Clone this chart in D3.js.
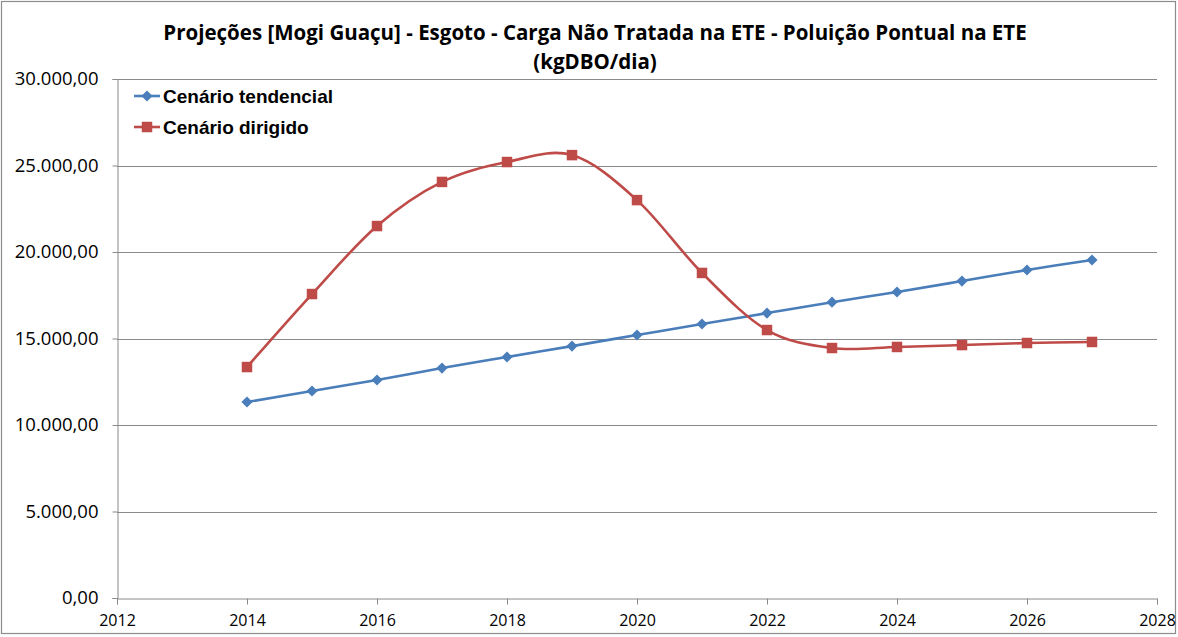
<!DOCTYPE html>
<html><head><meta charset="utf-8">
<script src="https://cdn.jsdelivr.net/npm/d3@7"></script>
<style>body{margin:0;background:#fff}svg{display:block}</style>
</head><body>
<svg id="c" width="1178" height="637"></svg>
<script>
const years = [2014,2015,2016,2017,2018,2019,2020,2021,2022,2023,2024,2025,2026,2027];
const tendencial = [11330,11965,12600,13290,13930,14560,15200,15840,16470,17100,17690,18320,18960,19540];
const dirigido = [13350,17570,21500,24050,25200,25600,23000,18790,15490,14450,14510,14620,14740,14800];
const seriesNames = ["Cenário tendencial","Cenário dirigido"];
const titleLines = ["Projeções [Mogi Guaçu] - Esgoto - Carga Não Tratada na ETE - Poluição Pontual na ETE","(kgDBO/dia)"];
const xTicks = [2012,2014,2016,2018,2020,2022,2024,2026,2028];
const yTicks = [0,5000,10000,15000,20000,25000,30000];

const svg = d3.select("#c");
const L=117, R=1157, T=79, B=598;
const x = d3.scaleLinear().domain([2012,2028]).range([L,R]);
const y = d3.scaleLinear().domain([0,30000]).range([B,T]);
const fmt = v => d3.formatLocale({decimal:",",thousands:".",grouping:[3]}).format(",.2f")(v);

svg.append("rect").attr("x",1.5).attr("y",1.5).attr("width",1174).attr("height",632)
  .attr("fill","#fff").attr("stroke","#8c8c8c").attr("stroke-width",1.2);

// gridlines
svg.append("g").selectAll("line").data(yTicks.filter(d=>d>0)).join("line")
  .attr("x1",L).attr("x2",R).attr("y1",d=>Math.round(y(d))+0.5).attr("y2",d=>Math.round(y(d))+0.5)
  .attr("stroke","#8a8a8a").attr("stroke-width",1);

// y axis
const ya = svg.append("g").attr("transform",`translate(${L+0.5},0)`)
  .call(d3.axisLeft(y).tickValues(yTicks).tickFormat(fmt).tickSize(5).tickPadding(14));
ya.select(".domain").attr("stroke","#8a8a8a");
ya.selectAll(".tick line").attr("stroke","#8a8a8a");
ya.selectAll("text").attr("font-family","'Open Sans', 'Liberation Sans', sans-serif").attr("font-size",18.5).attr("fill","#000");

// x axis
const xa = svg.append("g").attr("transform",`translate(0,${Math.round(B)+0.5})`)
  .call(d3.axisBottom(x).tickValues(xTicks).tickFormat(d3.format("d")).tickSize(6).tickPadding(10));
xa.select(".domain").attr("stroke","#8a8a8a");
xa.selectAll(".tick line").attr("stroke","#8a8a8a");
xa.selectAll("text").attr("font-family","'Open Sans', 'Liberation Sans', sans-serif").attr("font-size",16).attr("fill","#000");

// title
svg.append("g").selectAll("text").data(titleLines).join("text")
  .attr("x",595).attr("y",(d,i)=>40+i*29).attr("text-anchor","middle")
  .attr("font-family","'Open Sans', 'Liberation Sans', sans-serif").attr("font-weight","bold")
  .attr("font-size",20.5).attr("fill","#000").text(d=>d);

const colors = ["#4a7ebb","#be4b48"];
const line = d3.line().x((d,i)=>x(years[i])).y(d=>y(d)).curve(d3.curveCatmullRom.alpha(0));
const data = [tendencial, dirigido];
const diamond = d3.symbol().type(d3.symbolSquare).size(62);
const square = d3.symbol().type(d3.symbolSquare).size(110);
const rot = k => k===0 ? " rotate(45)" : "";

data.forEach((s,k)=>{
  svg.append("path").attr("d",line(s)).attr("fill","none").attr("stroke",colors[k]).attr("stroke-width",2.6);
  svg.append("g").selectAll("path").data(s).join("path")
    .attr("transform",(d,i)=>`translate(${x(years[i])},${y(d)})${rot(k)}`)
    .attr("d",k===0?diamond():square()).attr("fill",colors[k]);
});

// legend
const lg = svg.append("g");
seriesNames.forEach((n,k)=>{
  const yy = 96 + k*31;
  lg.append("line").attr("x1",134).attr("x2",160).attr("y1",yy).attr("y2",yy).attr("stroke",colors[k]).attr("stroke-width",2.6);
  lg.append("path").attr("transform",`translate(147,${yy})${rot(k)}`).attr("d",k===0?diamond():square()).attr("fill",colors[k]);
  lg.append("text").attr("x",163).attr("y",yy+6.5).attr("font-family","'Liberation Sans', Arial, sans-serif")
    .attr("font-weight","bold").attr("font-size",19).attr("fill","#000").text(n);
});
</script>
</body></html>
